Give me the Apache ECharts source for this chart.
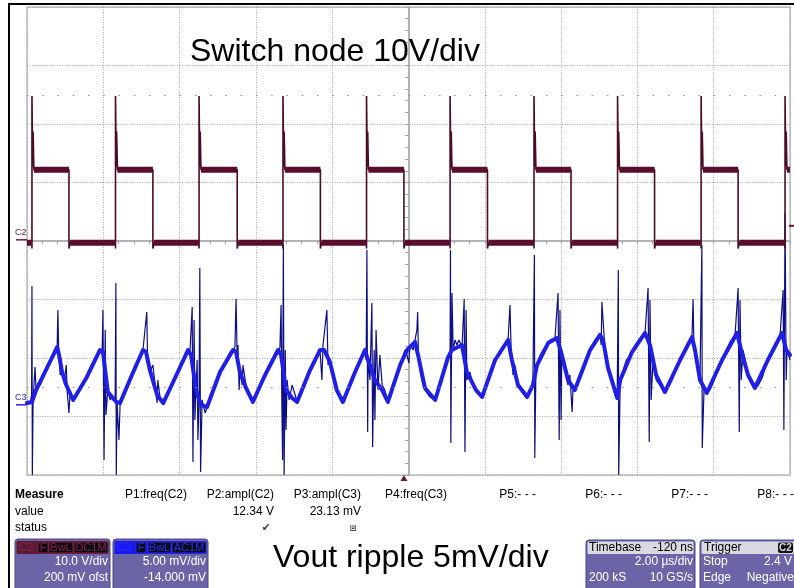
<!DOCTYPE html>
<html>
<head>
<meta charset="utf-8">
<script src="https://cdn.jsdelivr.net/npm/echarts@6/dist/echarts.min.js"></script>
<style>
  html, body { margin: 0; padding: 0; background: #ffffff; }
  #scope { width: 794px; height: 588px; }
</style>
</head>
<body>
<div id="scope"></div>
<script>
// ---- Channel C2: switch node (V), edge times in µs relative to the trigger ----
const c2RiseTimes = [-9.75, -7.56, -5.37, -3.17, -0.98, 1.21, 3.41, 5.60, 7.79, 9.99];
const c2FallTimes = [-8.78, -6.58, -4.37, -2.19, 0.00, 2.19, 4.38, 6.57, 8.76];
const c2High = 12.0;      // on-state plateau
const c2Low = -0.5;       // off-state plateau
const c2Spike = 24.6;     // rising-edge overshoot peak
const c2Ring = 18.5;      // ringing just after the overshoot
const c2Dip = -1.5;       // undershoot at each edge

// ---- Channel C3: output ripple (mV), [time µs, mV] ----
const c3Trace = [
  [-9.88,0.24],[-9.80,0.07],[-9.76,0.84],[-9.75,10.15],[-9.74,-6.0],[-9.72,0.41],[-9.67,3.23],[-9.64,1.09],
  [-9.59,1.86],[-9.53,1.69],[-9.41,2.80],[-9.28,3.66],[-9.15,4.68],[-9.09,4.94],[-9.07,8.10],[-9.05,4.51],
  [-9.01,2.55],[-8.96,2.97],[-8.91,1.86],[-8.85,3.40],[-8.83,1.26],[-8.78,-0.70],[-8.75,1.09],[-8.67,0.41],
  [-8.62,0.58],[-8.49,1.26],[-8.36,2.12],[-8.23,3.15],[-8.10,4.00],[-7.97,4.68],[-7.91,4.51],[-7.89,8.10],
  [-7.86,-4.72],[-7.83,6.39],[-7.81,-0.87],[-7.76,1.26],[-7.70,0.41],[-7.65,0.84],[-7.57,0.41],[-7.55,10.41],
  [-7.54,-6.0],[-7.52,0.24],[-7.47,-3.01],[-7.44,-0.02],[-7.36,0.67],[-7.23,1.69],[-7.10,2.80],[-6.97,3.83],
  [-6.84,4.68],[-6.79,4.51],[-6.74,7.93],[-6.72,4.09],[-6.66,2.80],[-6.58,3.40],[-6.52,1.69],[-6.47,0.15],
  [-6.45,2.12],[-6.39,0.58],[-6.31,0.15],[-6.26,0.41],[-6.13,1.26],[-6.00,2.29],[-5.87,3.40],[-5.74,4.26],
  [-5.66,4.68],[-5.61,4.43],[-5.55,8.36],[-5.53,-4.89],[-5.50,7.25],[-5.48,-1.30],[-5.42,3.83],[-5.40,-3.01],
  [-5.37,0.41],[-5.35,11.69],[-5.33,-5.74],[-5.29,0.41],[-5.21,-0.70],[-5.16,-0.19],[-5.08,0.41],[-4.95,1.52],
  [-4.82,2.80],[-4.68,3.66],[-4.56,4.51],[-4.48,4.68],[-4.43,4.94],[-4.40,9.04],[-4.37,3.83],[-4.35,5.11],
  [-4.32,1.26],[-4.30,2.97],[-4.24,1.69],[-4.22,3.40],[-4.14,1.69],[-4.03,0.84],[-3.96,0.24],[-3.88,0.58],
  [-3.77,1.69],[-3.64,2.55],[-3.51,3.40],[-3.38,4.17],[-3.30,4.68],[-3.25,4.86],[-3.22,8.53],[-3.20,0.41],
  [-3.18,-4.72],[-3.17,6.39],[-3.16,13.66],[-3.14,-6.0],[-3.11,4.68],[-3.09,-2.15],[-3.06,2.12],[-3.01,0.41],
  [-2.93,1.69],[-2.85,0.84],[-2.80,0.24],[-2.72,0.84],[-2.59,1.95],[-2.46,2.97],[-2.33,4.00],[-2.20,4.68],
  [-2.17,4.51],[-2.15,2.12],[-2.12,5.11],[-2.07,5.11],[-2.02,8.10],[-1.99,3.40],[-1.94,3.83],[-1.86,2.55],
  [-1.76,1.26],[-1.67,0.58],[-1.60,0.24],[-1.54,0.58],[-1.41,1.69],[-1.28,2.80],[-1.15,3.83],[-1.07,4.43],
  [-1.02,4.68],[-0.99,3.83],[-0.97,13.23],[-0.95,-2.32],[-0.94,3.83],[-0.89,2.12],[-0.84,8.70],[-0.82,-3.61],
  [-0.78,4.68],[-0.76,-1.30],[-0.73,6.39],[-0.68,1.26],[-0.63,4.26],[-0.57,1.69],[-0.50,1.26],[-0.42,0.24],
  [-0.36,0.58],[-0.23,1.95],[-0.10,3.40],[0.03,4.68],[0.08,4.26],[0.13,3.57],[0.16,5.11],[0.24,4.68],
  [0.29,5.54],[0.34,6.39],[0.36,7.93],[0.38,4.26],[0.42,2.97],[0.47,2.12],[0.55,1.26],[0.68,0.67],
  [0.82,0.41],[0.87,0.67],[0.95,1.69],[1.05,2.80],[1.16,4.09],[1.21,4.51],[1.22,13.23],[1.23,-3.26],
  [1.26,9.56],[1.29,4.68],[1.34,5.54],[1.39,5.11],[1.44,5.54],[1.50,5.11],[1.52,4.68],[1.58,9.04],
  [1.60,-4.03],[1.63,8.10],[1.65,2.12],[1.73,2.80],[1.81,1.69],[1.89,1.26],[1.99,0.84],[2.05,0.67],
  [2.13,1.26],[2.26,2.80],[2.39,3.83],[2.52,4.51],[2.65,5.11],[2.73,5.54],[2.78,8.53],[2.81,4.68],
  [2.86,2.55],[2.91,3.40],[2.99,1.69],[3.10,1.09],[3.23,0.67],[3.30,1.26],[3.38,1.86],[3.42,12.80],
  [3.43,-4.55],[3.46,2.97],[3.57,4.26],[3.70,4.94],[3.83,5.54],[3.96,5.71],[4.01,5.62],[4.04,9.56],
  [4.07,-3.01],[4.09,8.10],[4.12,-1.30],[4.14,4.68],[4.22,2.97],[4.30,1.69],[4.35,2.55],[4.41,-0.62],
  [4.43,1.26],[4.48,1.26],[4.56,1.86],[4.75,3.40],[4.88,4.68],[5.01,5.54],[5.14,5.97],[5.17,5.11],
  [5.19,8.79],[5.22,7.25],[5.27,4.68],[5.32,3.15],[5.40,2.55],[5.48,1.69],[5.53,0.84],[5.59,0.41],
  [5.62,11.52],[5.63,-6.0],[5.67,2.12],[5.75,2.97],[5.83,3.83],[5.93,4.26],[6.06,5.11],[6.19,5.71],
  [6.32,6.14],[6.37,5.97],[6.40,9.98],[6.43,-3.18],[6.45,8.96],[6.48,0.41],[6.53,3.83],[6.61,2.12],
  [6.71,1.69],[6.84,1.09],[6.90,1.26],[7.03,2.12],[7.16,3.23],[7.29,4.26],[7.42,5.11],[7.55,5.79],
  [7.58,9.04],[7.60,5.11],[7.66,3.83],[7.71,2.80],[7.76,2.12],[7.81,13.66],[7.82,-3.69],[7.87,1.69],
  [7.94,1.01],[8.02,1.26],[8.08,1.69],[8.16,2.38],[8.29,3.40],[8.42,4.51],[8.55,5.37],[8.68,5.97],
  [8.73,6.14],[8.76,9.98],[8.79,-2.32],[8.81,8.96],[8.84,2.12],[8.89,4.68],[8.97,3.40],[9.07,2.12],
  [9.20,1.44],[9.28,1.61],[9.39,2.29],[9.51,3.66],[9.65,4.68],[9.78,5.54],[9.86,5.97],[9.91,6.14],
  [9.94,9.81],[9.96,-2.15],[9.99,16.40],[10.02,2.12],[10.04,4.68],[10.12,3.83]
];

// Dense ripple body (the broad band of the trace between switching spikes)
const c3Ripple = [
  [-9.88,0.15],[-9.75,0.24],[-9.64,1.26],[-9.41,2.80],[-9.09,4.94],[-9.04,4.26],[-8.96,2.80],[-8.85,1.69],
  [-8.67,0.41],[-8.62,0.50],[-8.31,2.38],[-7.97,4.68],[-7.89,4.51],[-7.76,1.09],[-7.54,0.24],[-7.44,0.15],
  [-7.13,2.55],[-6.84,4.68],[-6.76,4.51],[-6.66,2.97],[-6.47,0.84],[-6.31,0.15],[-6.00,2.29],[-5.66,4.68],
  [-5.58,4.26],[-5.45,1.26],[-5.32,-0.02],[-5.16,-0.19],[-4.82,2.80],[-4.48,4.68],[-4.40,4.51],[-4.30,2.80],
  [-4.14,1.44],[-3.96,0.24],[-3.64,2.55],[-3.30,4.68],[-3.22,4.26],[-3.09,1.26],[-2.93,0.58],[-2.80,0.24],
  [-2.46,2.97],[-2.20,4.68],[-2.09,4.68],[-1.94,3.66],[-1.76,1.26],[-1.60,0.24],[-1.28,2.80],[-1.02,4.68],
  [-0.94,3.83],[-0.76,2.12],[-0.57,1.26],[-0.42,0.24],[-0.10,3.40],[0.08,4.68],[0.29,5.37],[0.37,4.26],
  [0.55,1.44],[0.82,0.41],[1.16,4.09],[1.26,4.68],[1.52,5.11],[1.65,2.80],[1.89,1.26],[2.05,0.67],
  [2.39,3.83],[2.73,5.54],[2.83,3.83],[2.99,1.69],[3.23,0.67],[3.38,1.69],[3.49,3.40],[3.78,5.28],
  [4.01,5.71],[4.14,4.26],[4.30,2.12],[4.48,1.26],[4.88,4.68],[5.14,5.97],[5.22,5.54],[5.35,3.15],
  [5.59,0.58],[5.67,2.12],[5.98,4.51],[6.32,6.14],[6.45,5.11],[6.61,2.55],[6.84,1.09],[7.24,3.83],
  [7.55,5.79],[7.63,4.68],[7.76,2.12],[7.94,1.01],[8.34,3.83],[8.73,6.14],[8.84,4.68],[9.02,2.55],
  [9.20,1.44],[9.54,3.83],[9.91,6.14],[10.02,4.68],[10.12,4.26]
];

// ---- Front-panel readouts ----
const measureHeads = ['P1:freq(C2)', 'P2:ampl(C2)', 'P3:ampl(C3)', 'P4:freq(C3)', 'P5:- - -', 'P6:- - -', 'P7:- - -', 'P8:- - -'];
const measureValues = ['', '12.34 V', '23.13 mV', '', '', '', '', ''];
const measureStatus = ['', '\u2714', '\u2A4F', '', '', '', '', ''];
const c2Settings = ['10.0 V/div', '200 mV ofst'];
const c3Settings = ['5.00 mV/div', '-14.000 mV'];
const timebase = { delay: '-120 ns', scale: '2.00 \u00B5s/div', samples: '200 kS', rate: '10 GS/s' };
const trigger = { source: 'C2', mode: 'Stop', level: '2.4 V', type: 'Edge', slope: 'Negative' };
const triggerLevelV = 2.4;

// Axis spans (10 horizontal and 8 vertical divisions)
const timeMin = -9.88, timeMax = 10.12;     // 2 µs/div, -120 ns delay
const c2Min = -40.2, c2Max = 39.8;          // 10 V/div, +200 mV offset
const c3Min = -6, c3Max = 34;               // 5 mV/div, -14 mV offset

// Build the C2 polyline from the edge times and plateau levels
const c2Trace = [[timeMin, c2Low]];
const c2Plateaus = [[timeMin, c2Low]];
c2RiseTimes.forEach((r, i) => {
  c2Trace.push([r, c2Low], [r, c2Dip], [r, c2Spike], [r + 0.02, 12.5], [r + 0.03, c2Ring], [r + 0.05, c2High]);
  c2Plateaus.push([r, c2Low], [r, NaN], [r + 0.05, c2High]);
  const f = c2FallTimes[i];
  if (f !== undefined) {
    c2Trace.push([f, c2High], [f, c2Dip], [f + 0.03, c2Low]);
    c2Plateaus.push([f, c2High], [f, NaN], [f + 0.03, c2Low]);
  }
});
c2Trace.push([timeMax, c2High]);
c2Plateaus.push([timeMax, c2High]);

const chart = echarts.init(document.getElementById('scope'), null, { renderer: 'canvas' });

const gridGray = '#a6a6a6';
const divAxisX = (inside) => ({
  type: 'value', min: -5, max: 5, interval: 1, gridIndex: 0,
  axisLine: { show: true, onZero: true, onZeroAxisIndex: 0, lineStyle: { color: '#b0b0b0', width: 1.5 } },
  axisTick: { show: true, inside: inside, length: 3, lineStyle: { color: '#a0a0a0', width: 1 } },
  minorTick: { show: true, splitNumber: 5, length: 3, lineStyle: { color: '#a0a0a0', width: 1 } },
  axisLabel: { show: false },
  splitLine: { show: !inside, lineStyle: { color: gridGray, type: [1, 1.5], width: 1 } }
});
const divAxisY = (inside) => ({
  type: 'value', min: -4, max: 4, interval: 1, gridIndex: 0,
  axisLine: { show: true, onZero: true, onZeroAxisIndex: 0, lineStyle: { color: '#b0b0b0', width: 1.5 } },
  axisTick: { show: true, inside: inside, length: 3, lineStyle: { color: '#a0a0a0', width: 1 } },
  minorTick: { show: true, splitNumber: 5, length: 3, lineStyle: { color: '#a0a0a0', width: 1 } },
  axisLabel: { show: false },
  splitLine: { show: !inside, lineStyle: { color: gridGray, type: [1, 1.5], width: 1 } }
});

chart.setOption({
  animation: false,
  backgroundColor: '#ffffff',
  grid: { left: 27, top: 7, width: 763, height: 468, show: true, borderColor: '#bdbdbd', borderWidth: 1.5, backgroundColor: 'transparent' },
  xAxis: [
    divAxisX(false), divAxisX(true),
    { type: 'value', min: timeMin, max: timeMax, show: false, gridIndex: 0 }
  ],
  yAxis: [
    divAxisY(false), divAxisY(true),
    { type: 'value', min: c2Min, max: c2Max, show: false, gridIndex: 0 },
    { type: 'value', min: c3Min, max: c3Max, show: false, gridIndex: 0 }
  ],
  series: [
    {
      name: 'graticule', type: 'line', xAxisIndex: 0, yAxisIndex: 0, data: [[0, 0]],
      showSymbol: false, symbol: 'none', lineStyle: { opacity: 0 }, silent: true,
      markLine: {
        silent: true, symbol: 'none', label: { show: false },
        lineStyle: { color: '#8f8f8f', type: [1.5, 13.76], width: 1 },
        data: [{ yAxis: 2.5 }, { yAxis: -2.5 }]
      }
    },
    {
      name: 'C3 spikes', type: 'line', xAxisIndex: 2, yAxisIndex: 3, data: c3Trace,
      symbol: 'none', z: 3, lineStyle: { color: '#0e0e84', width: 1.2 }
    },
    {
      name: 'C3 ripple', type: 'line', xAxisIndex: 2, yAxisIndex: 3, data: c3Ripple,
      symbol: 'none', z: 4, lineStyle: { color: '#1f1fe6', width: 4, join: 'round', cap: 'round' }
    },
    {
      name: 'C2 edges', type: 'line', xAxisIndex: 2, yAxisIndex: 2, data: c2Trace,
      symbol: 'none', z: 5, lineStyle: { color: '#4a0b26', width: 1.6 }
    },
    {
      name: 'C2 plateaus', type: 'line', xAxisIndex: 2, yAxisIndex: 2, data: c2Plateaus,
      symbol: 'none', z: 6, connectNulls: false, lineStyle: { color: '#5a0e2e', width: 6 }
    }
  ]
});

// ---- Overlay: markers, captions and front-panel boxes ----
const FONT = '"Liberation Sans", Arial, sans-serif';
const px = (axis, idx, v) => chart.convertToPixel(axis === 'x' ? { xAxisIndex: idx } : { yAxisIndex: idx }, v);
const c2Zero = px('y', 2, 0);
const c3Zero = px('y', 3, 0);
const trigX = px('x', 2, 0);
const trigY = px('y', 2, triggerLevelV);
const plotBottom = px('y', 0, -4);
const plotRight = px('x', 0, 5);
const plotLeft = px('x', 0, -5);

const txt = (x, y, s, opt) => ({
  type: 'text', x: x, y: y, z: 100, silent: true,
  style: Object.assign({ text: s, font: '12px ' + FONT, fill: '#000', textAlign: 'left', textVerticalAlign: 'middle', align: 'left', verticalAlign: 'middle' }, opt || {})
});
const box = (x, y, w, h, fill, stroke, r) => ({
  type: 'rect', z: 90, silent: true, shape: { x: x, y: y, width: w, height: h, r: r || 0 },
  style: { fill: fill, stroke: stroke || null, lineWidth: stroke ? 1 : 0 }
});
const right = (opt) => Object.assign({ textAlign: 'right', align: 'right' }, opt || {});

const els = [];
// outer black frame
els.push({ type: 'line', z: 95, shape: { x1: 8, y1: 4, x2: 794, y2: 4 }, style: { stroke: '#000', lineWidth: 2 } });
els.push({ type: 'line', z: 95, shape: { x1: 9, y1: 4, x2: 9, y2: 588 }, style: { stroke: '#000', lineWidth: 2 } });

// channel ground markers
els.push({ type: 'line', z: 95, shape: { x1: 16, y1: c2Zero, x2: plotLeft, y2: c2Zero }, style: { stroke: '#6a1636', lineWidth: 1.5 } });
els.push(txt(15, c2Zero - 7, 'C2', { font: '9px ' + FONT, fill: '#6a1636' }));
els.push({ type: 'line', z: 95, shape: { x1: 16, y1: c3Zero, x2: plotLeft, y2: c3Zero }, style: { stroke: '#2626d0', lineWidth: 1.5 } });
els.push(txt(15, c3Zero - 7, 'C3', { font: '9px ' + FONT, fill: '#2626d0' }));

// trigger time and level markers
els.push({ type: 'polygon', z: 95, shape: { points: [[trigX, plotBottom], [trigX - 3.5, plotBottom + 6], [trigX + 3.5, plotBottom + 6]] }, style: { fill: '#6a1636' } });
els.push({ type: 'line', z: 95, shape: { x1: plotRight - 1, y1: trigY, x2: plotRight + 4, y2: trigY }, style: { stroke: '#6a1636', lineWidth: 2 } });

// captions
els.push(txt(190, 52, 'Switch node 10V/div', { font: '32px ' + FONT }));
els.push(txt(273, 558, 'Vout ripple 5mV/div', { font: '32px ' + FONT }));

// measurement table
els.push(txt(15, 495, 'Measure', { font: 'bold 12px ' + FONT }));
els.push(txt(15, 512, 'value'));
els.push(txt(15, 528, 'status'));
const colRight = [187, 274, 361, 447, 536, 622, 708, 794];
measureHeads.forEach((h, i) => {
  els.push(txt(colRight[i], 495, h, right()));
  if (measureValues[i]) els.push(txt(colRight[i], 512, measureValues[i], right()));
  if (measureStatus[i]) els.push(txt(colRight[i] - 8, 528, measureStatus[i], right({ font: '11px "DejaVu Sans", sans-serif', fill: '#444', textAlign: 'center', align: 'center' })));
});

// channel descriptor boxes
const panelFill = '#6b65a7', panelStroke = '#4b467e';
function channelBox(x, w, name, headFill, inkFill, tags, lines) {
  els.push(box(x, 539, w, 52, panelFill, panelStroke, 3));
  els.push(box(x + 1.5, 541, w - 3, 13, headFill, null, 1));
  els.push(txt(x + 3, 547.5, name, { font: '12px ' + FONT, fill: inkFill }));
  tags.forEach(t => {
    els.push(box(t[0], 542, t[1], 11, '#0b0b12', inkFill, 1));
    els.push(txt(t[0] + t[1] / 2, 547.5, t[2], { font: '11px ' + FONT, fill: inkFill, textAlign: 'center', align: 'center' }));
  });
  els.push(txt(x + w - 2, 562, lines[0], right({ fill: '#fff' })));
  els.push(txt(x + w - 2, 578, lines[1], right({ fill: '#fff' })));
}
channelBox(15, 95, 'C2', '#5a1a34', '#8a2248', [[38, 10, 'F'], [49, 24, 'BwL'], [74, 34, 'DC1M']], c2Settings);
channelBox(113, 95, 'C3', '#1a1af0', '#2a2aff', [[136, 10, 'F'], [148, 23, 'BwL'], [172, 34, 'AC1M']], c3Settings);

// timebase box
els.push(box(586, 540, 109, 52, panelFill, panelStroke, 3));
els.push(box(587.5, 541.5, 106, 12.5, '#d9d9e1', null, 1));
els.push(txt(589, 548, 'Timebase'));
els.push(txt(693, 548, timebase.delay, right()));
els.push(txt(693, 562, timebase.scale, right({ fill: '#fff' })));
els.push(txt(589, 578, timebase.samples, { fill: '#fff' }));
els.push(txt(693, 578, timebase.rate, right({ fill: '#fff' })));

// trigger box
els.push(box(700, 540, 100, 52, panelFill, panelStroke, 3));
els.push(box(701.5, 541.5, 97, 12.5, '#d9d9e1', null, 1));
els.push(txt(704, 548, 'Trigger'));
els.push(box(778, 542.5, 15, 10.5, '#111', null, 2));
els.push(txt(785.5, 548, trigger.source, { font: 'bold 10px ' + FONT, fill: '#d9d9e1', textAlign: 'center', align: 'center' }));
els.push(txt(703, 562, trigger.mode, { fill: '#fff' }));
els.push(txt(792, 562, trigger.level, right({ fill: '#fff' })));
els.push(txt(703, 578, trigger.type, { fill: '#fff' }));
els.push(txt(794, 578, trigger.slope, right({ fill: '#fff' })));

chart.setOption({ graphic: { elements: els } });
</script>
</body>
</html>
